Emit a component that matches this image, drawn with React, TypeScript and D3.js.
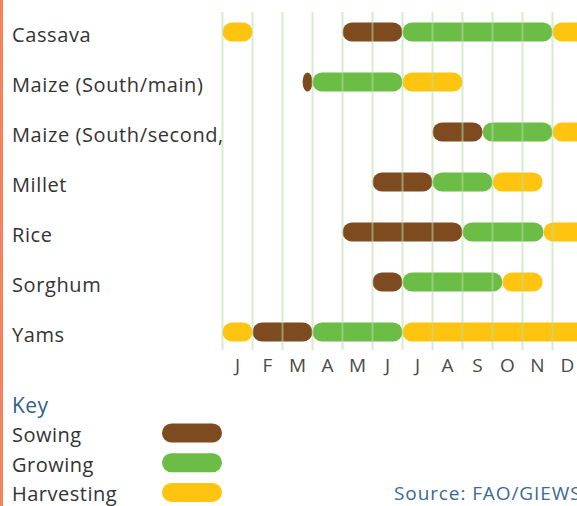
import { scaleBand, scaleLinear, select } from "d3";
import { useEffect, useRef } from "react";

// crop rows, top to bottom
const crops = [
  "Cassava",
  "Maize (South/main)",
  "Maize (South/second,",
  "Millet",
  "Rice",
  "Sorghum",
  "Yams",
];

const months = ["J", "F", "M", "A", "M", "J", "J", "A", "S", "O", "N", "D"];

// [start, end] in months from 1 Jan (0 = start of Jan, 12 = end of Dec)
const sowing: [number, number][][] = [
  [[4, 6]],
  [[2.67, 3]],
  [[7, 8.67]],
  [[5, 7]],
  [[4, 8]],
  [[5, 6]],
  [[1, 3]],
];
const growing: [number, number][][] = [
  [[6, 11]],
  [[3, 6]],
  [[8.67, 11]],
  [[7, 9]],
  [[8, 10.7]],
  [[6, 9.33]],
  [[3, 6]],
];
const harvesting: [number, number][][] = [
  [[0, 1], [11, 12.5]],
  [[6, 8]],
  [[11, 12.5]],
  [[9, 10.67]],
  [[10.7, 12.5]],
  [[9.33, 10.67]],
  [[0, 1], [6, 12.5]],
];

const stages = ["Sowing", "Growing", "Harvesting"];
const stageColors = ["#7e4a1f", "#6bbd45", "#fec40f"];

const FONT = "'Open Sans', sans-serif";

const App = () => {
  const svgRef = useRef<SVGSVGElement>(null);

  useEffect(() => {
    const width = 577;
    const height = 506;
    const svg = select(svgRef.current).attr("width", width).attr("height", height);
    svg.selectAll("*").remove();

    const xScale = scaleLinear().domain([0, 12]).range([222.5, 582.5]);
    const yScale = scaleBand().domain(crops).range([7, 357]);
    const barH = 19;

    // left orange stripe
    svg.append("rect").attr("x", 0).attr("y", 0).attr("width", 3).attr("height", height).attr("fill", "#f4845f");

    // crop labels
    svg
      .selectAll(".crop")
      .data(crops)
      .join("text")
      .attr("x", 12)
      .attr("y", (d) => yScale(d)! + yScale.bandwidth() / 2 + 9.5)
      .attr("font-family", FONT)
      .attr("font-size", 20)
      .attr("letter-spacing", 0.6)
      .attr("fill", "#333")
      .text((d) => d);

    // bars: one group per stage
    const allStages = [sowing, growing, harvesting];
    const segs: { row: number; s: number; e: number; stage: number }[] = [];
    allStages.forEach((st, k) =>
      st.forEach((list, row) => list.forEach(([s, e]) => segs.push({ row, s, e, stage: k })))
    );
    segs.sort((a, b) => a.s - b.s);
    svg
      .append("g")
      .selectAll("rect")
      .data(segs)
      .join("rect")
      .attr("x", (d) => xScale(d.s))
      .attr("y", (d) => yScale(crops[d.row])! + yScale.bandwidth() / 2 - barH / 2)
      .attr("width", (d) => xScale(d.e) - xScale(d.s))
      .attr("height", barH)
      .attr("rx", (d) => Math.min(barH / 2, (xScale(d.e) - xScale(d.s)) / 2))
      .attr("ry", barH / 2)
      .attr("fill", (d) => stageColors[d.stage]);

    // month grid lines, on top of bars, faint
    svg
      .append("g")
      .selectAll("line")
      .data(Array.from({ length: 13 }, (_, i) => i))
      .join("line")
      .attr("x1", (d) => xScale(d))
      .attr("x2", (d) => xScale(d))
      .attr("y1", 12)
      .attr("y2", 350)
      .attr("stroke", "#b5dca5")
      .attr("stroke-opacity", 0.55)
      .attr("stroke-width", 2);

    // month labels
    svg
      .append("g")
      .selectAll("text")
      .data(months)
      .join("text")
      .attr("x", (d, i) => xScale(i + 0.5))
      .attr("y", 372)
      .attr("text-anchor", "middle")
      .attr("font-family", FONT)
      .attr("font-size", 19)
      .attr("fill", "#4a4a4a")
      .text((d) => d);

    // key
    svg
      .append("text")
      .attr("x", 12)
      .attr("y", 413)
      .attr("font-family", FONT)
      .attr("font-size", 21)
      .attr("letter-spacing", 0.4)
      .attr("fill", "#2f5f8c")
      .text("Key");

    const key = svg
      .append("g")
      .selectAll("g")
      .data(stages)
      .join("g")
      .attr("transform", (d, i) => `translate(0, ${433 + i * 29.7})`);
    key
      .append("text")
      .attr("x", 12)
      .attr("y", 9)
      .attr("font-family", FONT)
      .attr("font-size", 20)
      .attr("letter-spacing", 0.5)
      .attr("fill", "#333")
      .text((d) => d);
    key
      .append("rect")
      .attr("x", 162)
      .attr("y", -9.5)
      .attr("width", 60)
      .attr("height", 19)
      .attr("rx", 9.5)
      .attr("fill", (d, i) => stageColors[i]);

    svg
      .append("text")
      .attr("x", 394)
      .attr("y", 500)
      .attr("font-family", FONT)
      .attr("font-size", 19)
      .attr("letter-spacing", 0.9)
      .attr("fill", "#3a6a96")
      .text("Source: FAO/GIEWS");
  }, []);

  return (
    <svg
      ref={svgRef}
      style={{ position: "absolute", left: 0, top: 0, overflow: "hidden", background: "#fff" }}
    ></svg>
  );
};

export default App;
